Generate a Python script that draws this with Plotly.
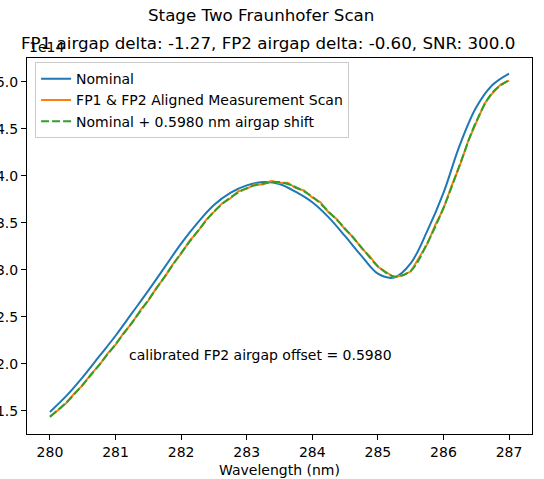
import plotly.graph_objects as go

# Wavelength grid (nm)
wl = [280.00, 280.25, 280.50, 280.75, 281.00, 281.25, 281.50, 281.75, 282.00, 282.25,
      282.50, 282.75, 283.00, 283.25, 283.50, 283.75, 284.00, 284.25, 284.50, 284.75,
      285.00, 285.25, 285.50, 285.75, 286.00, 286.25, 286.50, 286.75, 287.00]

# Nominal (units of 1e14)
nominal = [1.49, 1.66, 1.86, 2.08, 2.30, 2.54, 2.78, 3.03, 3.28, 3.50,
           3.69, 3.82, 3.90, 3.935, 3.915, 3.83, 3.72, 3.56, 3.36, 3.15,
           2.96, 2.92, 3.07, 3.41, 3.82, 4.33, 4.73, 4.97, 5.09]

# Nominal + 0.5980 nm airgap shift
shifted = [1.44, 1.59, 1.78, 1.99, 2.21, 2.44, 2.68, 2.93, 3.18, 3.41,
           3.62, 3.77, 3.87, 3.92, 3.935, 3.88, 3.78, 3.62, 3.44, 3.24,
           3.04, 2.93, 2.99, 3.28, 3.66, 4.12, 4.58, 4.89, 5.02]

# Measurement scan (finer grid, noisy)
wl_meas = [280.000, 280.125, 280.250, 280.375, 280.500, 280.625, 280.750, 280.875,
           281.000, 281.125, 281.250, 281.375, 281.500, 281.625, 281.750, 281.875,
           282.000, 282.125, 282.250, 282.375, 282.500, 282.625, 282.750, 282.875,
           283.000, 283.125, 283.250, 283.375, 283.500, 283.625, 283.750, 283.875,
           284.000, 284.125, 284.250, 284.375, 284.500, 284.625, 284.750, 284.875,
           285.000, 285.125, 285.250, 285.375, 285.500, 285.625, 285.750, 285.875,
           286.000, 286.125, 286.250, 286.375, 286.500, 286.625, 286.750, 286.875,
           287.000]
measured = [1.435, 1.515, 1.585, 1.688, 1.775, 1.892, 1.985, 2.107,
            2.204, 2.332, 2.434, 2.567, 2.674, 2.812, 2.924, 3.062,
            3.173, 3.307, 3.404, 3.528, 3.613, 3.708, 3.762, 3.838,
            3.862, 3.912, 3.910, 3.948, 3.925, 3.928, 3.871, 3.846,
            3.772, 3.719, 3.612, 3.540, 3.431, 3.349, 3.232, 3.148,
            3.033, 2.978, 2.922, 2.942, 2.983, 3.128, 3.272, 3.478,
            3.652, 3.897, 4.112, 4.368, 4.572, 4.767, 4.883, 4.976,
            5.015]

title = "Stage Two Fraunhofer Scan"
subtitle = "FP1 airgap delta: -1.27, FP2 airgap delta: -0.60, SNR: 300.0"
note = "calibrated FP2 airgap offset = 0.5980"
xlabel = "Wavelength (nm)"
xticks = [280, 281, 282, 283, 284, 285, 286, 287]
yticks = [1.5, 2.0, 2.5, 3.0, 3.5, 4.0, 4.5, 5.0]

FONT = "DejaVu Sans"

fig = go.Figure()
fig.add_trace(go.Scatter(x=wl, y=nominal, mode="lines", name="Nominal",
                         line=dict(color="#1f77b4", width=2, shape="spline")))
fig.add_trace(go.Scatter(x=wl_meas, y=measured, mode="lines",
                         name="FP1 & FP2 Aligned Measurement Scan",
                         line=dict(color="#ff7f0e", width=2)))
fig.add_trace(go.Scatter(x=wl, y=shifted, mode="lines",
                         name="Nominal + 0.5980 nm airgap shift",
                         line=dict(color="#2ca02c", width=2, dash="8px,3px", shape="spline")))

fig.update_layout(
    width=544, height=479,
    margin=dict(l=27, r=12, t=58, b=45, autoexpand=False),
    paper_bgcolor="white", plot_bgcolor="white",
    font=dict(family=FONT, size=14, color="black"),
    showlegend=True,
    legend=dict(x=0.016, y=0.989, xanchor="left", yanchor="top",
                bgcolor="rgba(255,255,255,0.8)", bordercolor="#cccccc", borderwidth=1,
                font=dict(family=FONT, size=14, color="black"),
                tracegroupgap=0),
    xaxis=dict(range=[279.65, 287.35], tickvals=xticks, ticks="outside", ticklen=5,
               tickwidth=1, tickcolor="black", showline=True, linecolor="black",
               linewidth=1, mirror=True, showgrid=False, zeroline=False,
               automargin=False),
    yaxis=dict(range=[1.255, 5.255], tickvals=yticks, tickformat=".1f", ticks="outside",
               ticklen=5, tickwidth=1, tickcolor="black", showline=True,
               linecolor="black", linewidth=1, mirror=True, showgrid=False,
               zeroline=False, automargin=False),
)

fig.add_annotation(text=title, xref="paper", yref="paper", x=(261 - 27) / 505, y=1 + (58 - 15) / 376,
                   xanchor="center", yanchor="middle", showarrow=False,
                   font=dict(family=FONT, size=16.7))
fig.add_annotation(text=subtitle, xref="paper", yref="paper", x=(268 - 27) / 505, y=1 + (58 - 43) / 376,
                   xanchor="center", yanchor="middle", showarrow=False,
                   font=dict(family=FONT, size=16.7))
fig.add_annotation(text="1e14", xref="paper", yref="paper", x=0.0, y=1 + (58 - 47) / 376,
                   xanchor="left", yanchor="middle", showarrow=False,
                   font=dict(family=FONT, size=14))
fig.add_annotation(text=xlabel, xref="paper", yref="paper", x=(279.5 - 27) / 505, y=-(470 - 434) / 376,
                   xanchor="center", yanchor="middle", showarrow=False,
                   font=dict(family=FONT, size=14))
fig.add_annotation(text=note, xref="x", yref="y", x=281.17, y=2.10,
                   xanchor="left", yanchor="middle", showarrow=False,
                   font=dict(family=FONT, size=14))

fig.write_html("out.html")
